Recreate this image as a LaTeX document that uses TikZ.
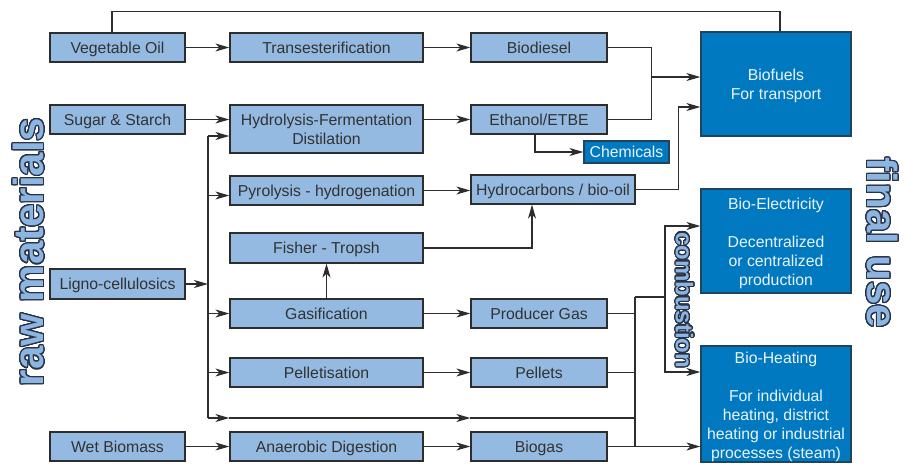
\documentclass[tikz,border=0pt]{standalone}
\usepackage{fontspec}
\setmainfont{Liberation Sans}
\usepackage{contour}
\usetikzlibrary{arrows.meta}
\definecolor{lbox}{RGB}{148,186,226}
\definecolor{dbox}{RGB}{0,121,193}
\definecolor{lineC}{RGB}{45,45,45}
\definecolor{txtC}{RGB}{50,50,50}
\definecolor{outl}{RGB}{40,50,70}
\definecolor{bigfill}{RGB}{141,181,226}
\contourlength{1.1pt}
\contournumber{32}
\begin{document}
\begin{tikzpicture}[x=1pt,y=-1pt,
  lb/.style={draw=lineC, line width=1.3pt, fill=lbox, text=txtC,
    font=\fontsize{15.8}{19}\selectfont, align=center, inner sep=0pt},
  one/.style={text height=13pt, text depth=1.7pt},
  db/.style={draw=lineC!70!dbox, line width=1.3pt, fill=dbox, text=white!92!dbox,
    font=\fontsize{15.8}{19}\selectfont, align=center, inner sep=0pt},
  dtext/.style={text=white!92!dbox, font=\fontsize{15.8}{19}\selectfont, align=center, inner sep=0pt},
  arr/.style={draw=lineC, line width=1.2pt, -{Stealth[length=14pt,width=8pt,inset=4pt]}},
  ln/.style={draw=lineC, line width=1.2pt},
  big/.style={font=\bfseries\fontsize{42}{46}\selectfont, text=bigfill, inner sep=0pt},
  mid/.style={font=\bfseries\fontsize{24}{28}\selectfont, text=bigfill, inner sep=0pt}
]
\useasboundingbox (0,0) rectangle (904,463);
\fill[white] (0,0) rectangle (904,463);

% raw materials
\node[lb, one, minimum width=135pt, minimum height=29pt] (veg) at (117.5,47.5) {Vegetable Oil};
\node[lb, one, minimum width=135pt, minimum height=29pt] (sugar) at (117.5,119.5) {Sugar \& Starch};
\node[lb, one, minimum width=135pt, minimum height=30pt] (ligno) at (117.5,284) {Ligno-cellulosics};
\node[lb, one, minimum width=135pt, minimum height=29pt] (wet) at (117.5,446.5) {Wet Biomass};

% processes
\node[lb, one, minimum width=193pt, minimum height=29pt] (trans) at (326.5,47.5) {Transesterification};
\node[lb, minimum width=193pt, minimum height=48pt] (hydro) at (326.5,129) {Hydrolysis-Fermentation\\Distilation};
\node[lb, one, minimum width=193pt, minimum height=29pt] (pyro) at (326.5,190.5) {Pyrolysis - hydrogenation};
\node[lb, one, minimum width=193pt, minimum height=30pt] (ft) at (326.5,248) {Fisher - Tropsh};
\node[lb, one, minimum width=193pt, minimum height=29pt] (gas) at (326.5,313.5) {Gasification};
\node[lb, one, minimum width=193pt, minimum height=29pt] (pel) at (326.5,372.5) {Pelletisation};
\node[lb, one, minimum width=193pt, minimum height=29pt] (ana) at (326.5,446.5) {Anaerobic Digestion};

% products
\node[lb, one, minimum width=136pt, minimum height=29pt] (bd) at (539,47.5) {Biodiesel};
\node[lb, one, minimum width=136pt, minimum height=29pt] (et) at (539,119.5) {Ethanol/ETBE};
\node[db, one, minimum width=85pt, minimum height=22pt] (chem) at (626.5,152) {Chemicals};
\node[lb, one, minimum width=164pt, minimum height=29pt] (hc) at (553,189.5) {Hydrocarbons / bio-oil};
\node[lb, one, minimum width=136pt, minimum height=29pt] (pg) at (539,313.5) {Producer Gas};
\node[lb, one, minimum width=136pt, minimum height=29pt] (pels) at (539,372.5) {Pellets};
\node[lb, one, minimum width=136pt, minimum height=29pt] (bgas) at (539,446.5) {Biogas};

% final use
\node[db, minimum width=150pt, minimum height=104pt] (bf) at (776,84) {};
\node[db, minimum width=150pt, minimum height=104pt] (be) at (776,241) {};
\node[db, minimum width=150pt, minimum height=116pt] (bh) at (776,404) {};
\node[dtext] (bft) at ([yshift=-2pt]bf.center) {Biofuels\\For transport};
\node[dtext] (bet) at ([yshift=-2pt]be.center) {Bio-Electricity\\[19pt]Decentralized\\or centralized\\production};
\node[dtext] (bht) at ([yshift=-2.5pt]bh.center) {Bio-Heating\\[19pt]For individual\\heating, district\\heating or industrial\\processes (steam)};

% side titles
\node[big, rotate=90] (raw) at (29,252) {\contour{outl}{raw materials}};
\node[big, rotate=-90] (fin) at (882,243) {\contour{outl}{final use}};
\node[mid, rotate=-90] (comb) at (684,300) {\contour{outl}{combustion}};

% top bypass line
\draw[ln] ([xshift=-5.5pt]veg.north) -- ++(0,-21) -| ([xshift=4pt]bf.north);

% row connectors
\draw[arr] (veg) -- (trans);
\draw[arr] (trans) -- (bd);
\draw[arr] (sugar.east) -- (sugar.east -| hydro.west);
\draw[arr] (et.west -| hydro.east) -- (et.west);
\draw[ln] (bd.east) -- ++(44,0) |- (et.east);
\coordinate (m1) at (651,77);
\draw[arr] (m1) -- (m1 -| bf.west);
\draw[arr] ([xshift=-4pt]et.south) |- (chem.west);
\draw[arr] (hc.east) -- ++(43,0) |- ([yshift=-23pt]bf.west);
\draw[arr] (pyro.east) -- (pyro.east -| hc.west);
\draw[arr] (ft.east) -| ([xshift=-21pt]hc.south);
\draw[arr] (gas.north) -- (ft.south);
\draw[arr] (gas) -- (pg);
\draw[arr] (pel) -- (pels);
\draw[arr] (ana) -- (bgas);
\draw[arr] (wet) -- (ana);

% trunk from ligno-cellulosics
\coordinate (tk1) at (208,136);
\coordinate (tk2) at (208,195.5);
\coordinate (tkL) at (208,284);
\coordinate (tk3) at (208,313.5);
\coordinate (tk4) at (208,372.5);
\coordinate (tk5) at (208,418);
\draw[ln] (tk1) -- (tk5);
\draw[arr] (ligno) -- (tkL);
\draw[arr] (tk1) -- (tk1 -| hydro.west);
\draw[arr] (tk2) -- (tk2 -| pyro.west);
\draw[arr] (tk3) -- (tk3 -| gas.west);
\draw[arr] (tk4) -- (tk4 -| pel.west);
\draw[arr] (tk5) -- (tk5 -| pel.west);
\draw[arr] (tk5 -| pel.west) -- (tk5 -| pels.west);

% collector to electricity / heating
\coordinate (ctop) at (635,297);
\coordinate (ctop2) at (665,297);
\draw[ln] (tk5 -| pels.west) -- (tk5 -| ctop);
\draw[ln] (pg.east) -- (pg.east -| ctop);
\draw[ln] (pels.east) -- (pels.east -| ctop);
\draw[ln] (ctop) -- (ctop |- bgas.east);
\draw[arr] (bgas.east) -- (bgas.east -| bh.west);
\draw[ln] (ctop) -- (ctop2);
\draw[arr] (ctop2) |- ([yshift=15pt]be.west);
\draw[arr] (ctop2) |- ([yshift=32pt]bh.west);
\end{tikzpicture}
\end{document}
